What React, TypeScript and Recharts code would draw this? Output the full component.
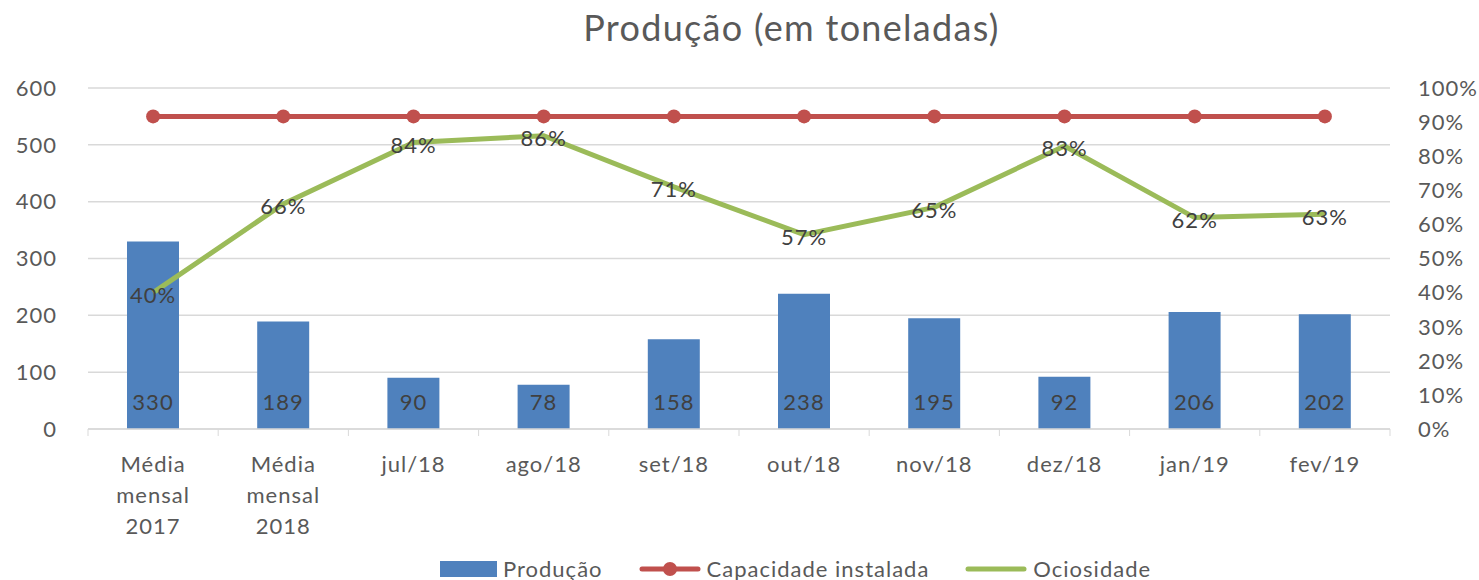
import React from 'react';
import {
  ComposedChart,
  Bar,
  Line,
  XAxis,
  YAxis,
  CartesianGrid,
  Legend,
  LabelList,
} from 'recharts';

const categories = [
  'Média mensal 2017',
  'Média mensal 2018',
  'jul/18',
  'ago/18',
  'set/18',
  'out/18',
  'nov/18',
  'dez/18',
  'jan/19',
  'fev/19',
];
const producao = [330, 189, 90, 78, 158, 238, 195, 92, 206, 202];
const capacidade = [550, 550, 550, 550, 550, 550, 550, 550, 550, 550];
const ociosidade = [0.4, 0.66, 0.84, 0.86, 0.71, 0.57, 0.65, 0.83, 0.62, 0.63];
const leftTicks = [0, 100, 200, 300, 400, 500, 600];
const rightTicks = [0, 0.1, 0.2, 0.3, 0.4, 0.5, 0.6, 0.7, 0.8, 0.9, 1];

const data = categories.map((name, i) => ({
  name,
  producao: producao[i],
  capacidade: capacidade[i],
  ociosidade: ociosidade[i],
}));

const W = 1479;
const H = 580;
const M = { top: 88, right: 9, bottom: 0, left: 18 };
const LEFT_W = 70;
const RIGHT_W = 80;
const plotWidth = W - M.left - M.right - LEFT_W - RIGHT_W;
const band = plotWidth / categories.length;

const FONT = 'Lato, "Open Sans", sans-serif';
const FS = 22;
const LS = 1;
const TXT = '#595959';
const LBL = '#404040';
const BLUE = '#4F81BD';
const RED = '#C0504D';
const GREEN = '#9BBB59';

const CategoryTick = (props: any) => {
  const { x, y, payload, index } = props;
  const words: string[] = String(payload.value).split(' ');
  const axisY = y - 8;
  return (
    <g>
      <line x1={x - band / 2} x2={x - band / 2} y1={axisY} y2={axisY + 7} stroke="#d9d9d9" />
      {index === categories.length - 1 && (
        <line x1={x + band / 2} x2={x + band / 2} y1={axisY} y2={axisY + 7} stroke="#d9d9d9" />
      )}
      <text
        x={x}
        y={axisY + 43}
        textAnchor="middle"
        fill={TXT}
        fontSize={FS}
        fontFamily={FONT}
        letterSpacing={LS}
      >
        {words.length > 2
          ? words.map((w, i) => (
              <tspan key={i} x={x} dy={i === 0 ? 0 : 31}>
                {w}
              </tspan>
            ))
          : payload.value}
      </text>
    </g>
  );
};

const BarValue = (props: any) => {
  const { x, y, width, height, value } = props;
  return (
    <text
      x={x + width / 2}
      y={y + height - 28}
      textAnchor="middle"
      dominantBaseline="central"
      fill={LBL}
      fontSize={FS}
      fontFamily={FONT}
      letterSpacing={LS}
    >
      {value}
    </text>
  );
};

const PctValue = (props: any) => {
  const { x, y, value } = props;
  return (
    <text
      x={x}
      y={y + 2}
      textAnchor="middle"
      dominantBaseline="central"
      fill={LBL}
      fontSize={FS}
      fontFamily={FONT}
      letterSpacing={LS}
    >
      {Math.round(value * 100)}%
    </text>
  );
};

const LegendBox = () => (
  <div
    style={{
      display: 'flex',
      alignItems: 'center',
      fontFamily: FONT,
      fontSize: FS,
      letterSpacing: LS,
      color: TXT,
      paddingLeft: 440,
    }}
  >
    <span style={{ display: 'inline-block', width: 57, height: 16, background: BLUE, marginRight: 6 }} />
    <span style={{ marginRight: 36 }}>Produção</span>
    <svg width={62} height={16} style={{ marginRight: 6 }}>
      <line x1={3} x2={59} y1={8} y2={8} stroke={RED} strokeWidth={5} strokeLinecap="round" />
      <circle cx={31} cy={8} r={7} fill={RED} />
    </svg>
    <span style={{ marginRight: 36 }}>Capacidade instalada</span>
    <svg width={62} height={16} style={{ marginRight: 6 }}>
      <line x1={3} x2={59} y1={8} y2={8} stroke={GREEN} strokeWidth={5} strokeLinecap="round" />
    </svg>
    <span>Ociosidade</span>
  </div>
);

export default function App() {
  return (
    <div style={{ position: 'absolute', left: 0, top: 0, width: W, height: H, background: '#fff' }}>
      <div
        style={{
          position: 'absolute',
          top: 5,
          left: 52,
          width: W,
          textAlign: 'center',
          fontFamily: FONT,
          fontSize: 36,
          letterSpacing: 1.3,
          color: TXT,
        }}
      >
        Produção (em toneladas)
      </div>
      <ComposedChart width={W} height={H} data={data} margin={M}>
        <CartesianGrid yAxisId="left" vertical={false} stroke="#d9d9d9" strokeWidth={1.5} />
        <XAxis
          dataKey="name"
          interval={0}
          height={124}
          tickLine={false}
          tickSize={0}
          tickMargin={8}
          axisLine={{ stroke: '#d9d9d9', strokeWidth: 1.5 }}
          tick={<CategoryTick />}
        />
        <YAxis
          yAxisId="left"
          width={LEFT_W}
          domain={[0, 600]}
          ticks={leftTicks}
          axisLine={false}
          tickLine={false}
          tickSize={0}
          tickMargin={31}
          tick={{ fill: TXT, fontSize: FS, fontFamily: FONT, letterSpacing: LS }}
        />
        <YAxis
          yAxisId="right"
          orientation="right"
          width={RIGHT_W}
          domain={[0, 1]}
          ticks={rightTicks}
          axisLine={false}
          tickLine={false}
          tickSize={0}
          tickMargin={28}
          tickFormatter={(v: number) => `${Math.round(v * 100)}%`}
          tick={{ fill: TXT, fontSize: FS, fontFamily: FONT, letterSpacing: LS, textAnchor: 'start' }}
        />
        <Bar yAxisId="left" dataKey="producao" name="Produção" fill={BLUE} barSize={52} isAnimationActive={false}>
          <LabelList dataKey="producao" content={<BarValue />} />
        </Bar>
        <Line
          yAxisId="left"
          dataKey="capacidade"
          name="Capacidade instalada"
          stroke={RED}
          strokeWidth={5}
          dot={{ r: 7, fill: RED, stroke: RED, strokeWidth: 0 }}
          activeDot={false}
          isAnimationActive={false}
        />
        <Line
          yAxisId="right"
          dataKey="ociosidade"
          name="Ociosidade"
          stroke={GREEN}
          strokeWidth={5}
          dot={false}
          activeDot={false}
          isAnimationActive={false}
        >
          <LabelList dataKey="ociosidade" content={<PctValue />} />
        </Line>
        <Legend
          content={<LegendBox />}
          wrapperStyle={{ position: 'absolute', top: 555, left: 0, width: W }}
        />
      </ComposedChart>
    </div>
  );
}
